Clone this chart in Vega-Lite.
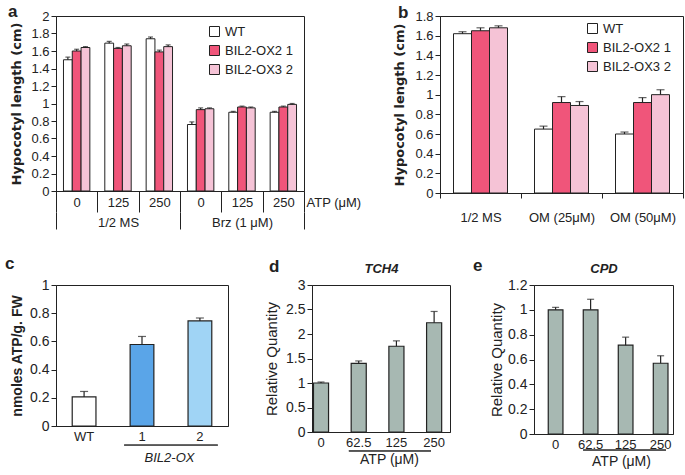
{
  "$schema": "https://vega.github.io/schema/vega-lite/v6.json",
  "background": "white",
  "padding": {"left": 4, "top": 2, "right": 0, "bottom": 0},
  "datasets": {
    "a": [
      {"cond": "MS|0", "genotype": "WT", "value": 1.50, "hi": 1.53},
      {"cond": "MS|0", "genotype": "BIL2-OX2 1", "value": 1.60, "hi": 1.62},
      {"cond": "MS|0", "genotype": "BIL2-OX3 2", "value": 1.64, "hi": 1.65},
      {"cond": "MS|125", "genotype": "WT", "value": 1.69, "hi": 1.71},
      {"cond": "MS|125", "genotype": "BIL2-OX2 1", "value": 1.63, "hi": 1.64},
      {"cond": "MS|125", "genotype": "BIL2-OX3 2", "value": 1.66, "hi": 1.68},
      {"cond": "MS|250", "genotype": "WT", "value": 1.74, "hi": 1.76},
      {"cond": "MS|250", "genotype": "BIL2-OX2 1", "value": 1.59, "hi": 1.61},
      {"cond": "MS|250", "genotype": "BIL2-OX3 2", "value": 1.65, "hi": 1.67},
      {"cond": "Brz|0", "genotype": "WT", "value": 0.76, "hi": 0.79},
      {"cond": "Brz|0", "genotype": "BIL2-OX2 1", "value": 0.93, "hi": 0.95},
      {"cond": "Brz|0", "genotype": "BIL2-OX3 2", "value": 0.94, "hi": 0.95},
      {"cond": "Brz|125", "genotype": "WT", "value": 0.90, "hi": 0.91},
      {"cond": "Brz|125", "genotype": "BIL2-OX2 1", "value": 0.96, "hi": 0.97},
      {"cond": "Brz|125", "genotype": "BIL2-OX3 2", "value": 0.95, "hi": 0.96},
      {"cond": "Brz|250", "genotype": "WT", "value": 0.90, "hi": 0.91},
      {"cond": "Brz|250", "genotype": "BIL2-OX2 1", "value": 0.96, "hi": 0.97},
      {"cond": "Brz|250", "genotype": "BIL2-OX3 2", "value": 0.99, "hi": 1.00}
    ],
    "agrp": [{"treatment": "1/2 MS"}, {"treatment": "Brz (1 μM)"}],
    "b": [
      {"medium": "1/2 MS", "genotype": "WT", "value": 1.62, "hi": 1.64},
      {"medium": "1/2 MS", "genotype": "BIL2-OX2 1", "value": 1.65, "hi": 1.68},
      {"medium": "1/2 MS", "genotype": "BIL2-OX3 2", "value": 1.68, "hi": 1.70},
      {"medium": "OM (25μM)", "genotype": "WT", "value": 0.65, "hi": 0.68},
      {"medium": "OM (25μM)", "genotype": "BIL2-OX2 1", "value": 0.92, "hi": 0.98},
      {"medium": "OM (25μM)", "genotype": "BIL2-OX3 2", "value": 0.89, "hi": 0.93},
      {"medium": "OM (50μM)", "genotype": "WT", "value": 0.60, "hi": 0.62},
      {"medium": "OM (50μM)", "genotype": "BIL2-OX2 1", "value": 0.92, "hi": 0.97},
      {"medium": "OM (50μM)", "genotype": "BIL2-OX3 2", "value": 1.00, "hi": 1.05}
    ],
    "c": [
      {"sample": "WT", "value": 0.206, "hi": 0.245},
      {"sample": "1", "value": 0.578, "hi": 0.635},
      {"sample": "2", "value": 0.745, "hi": 0.766}
    ],
    "d": [
      {"dose": "0", "value": 1.0, "hi": 1.02},
      {"dose": "62.5", "value": 1.40, "hi": 1.45},
      {"dose": "125", "value": 1.75, "hi": 1.86},
      {"dose": "250", "value": 2.23, "hi": 2.46}
    ],
    "e": [
      {"dose": "0", "value": 1.0, "hi": 1.02},
      {"dose": "62.5", "value": 1.0, "hi": 1.085},
      {"dose": "125", "value": 0.715, "hi": 0.78},
      {"dose": "250", "value": 0.57, "hi": 0.63}
    ]
  },
  "config": {
    "font": "Liberation Sans",
    "view": {"stroke": "#222", "strokeWidth": 1},
    "axis": {"domainColor": "#222", "tickColor": "#222", "labelColor": "#222", "titleColor": "#222", "grid": false, "labelFontSize": 13, "labelFont": "Liberation Sans", "titleFont": "Liberation Sans", "labelOverlap": false},
    "title": {"color": "#222", "font": "Liberation Sans"}
  },
  "spacing": 24,
  "resolve": {"scale": {"color": "independent", "xOffset": "independent"}},
  "vconcat": [
    {
      "hconcat": [
        {
          "width": 248, "height": 175,
          "title": {"text": "a", "anchor": "start", "frame": "group", "dx": -48, "dy": 24, "offset": 0, "fontSize": 17, "fontWeight": "bold", "baseline": "alphabetic"},
          "layer": [
            {
              "data": {"name": "a"},
              "layer": [
                {
                  "mark": {"type": "bar", "stroke": "#222", "strokeWidth": 1},
                  "encoding": {
                    "x": {"field": "cond", "type": "nominal", "sort": null, "scale": {"paddingInner": 0, "paddingOuter": 0},
                      "axis": {"title": "ATP (μM)", "titleX": 250, "titleY": 11, "titleAlign": "left", "titleBaseline": "middle", "titleAngle": 0, "titleFontWeight": "normal", "titleFontSize": 13,
                        "labelExpr": "split(datum.label, '|')[1]", "labelAngle": 0, "labelBaseline": "middle", "labelPadding": -10, "tickBand": "extent", "tickSize": 21}},
                    "xOffset": {"field": "genotype", "type": "nominal", "sort": null, "scale": {"paddingInner": 0, "paddingOuter": 0.85}},
                    "y": {"field": "value", "type": "quantitative", "scale": {"domain": [0, 2]},
                      "axis": {"title": "Hypocotyl length (cm)", "titleFont": "DejaVu Sans", "titleFontSize": 13, "titleFontWeight": "bold", "titlePadding": 7, "values": [0, 0.2, 0.4, 0.6, 0.8, 1, 1.2, 1.4, 1.6, 1.8, 2], "tickCount": 30, "format": ".1~f", "tickSize": 5, "labelPadding": 2}},
                    "color": {"field": "genotype", "type": "nominal", "sort": null,
                      "scale": {"domain": ["WT", "BIL2-OX2 1", "BIL2-OX3 2"], "range": ["#ffffff", "#f0557a", "#f5c3d6"]},
                      "legend": {"orient": "none", "legendX": 152, "legendY": 9, "title": null, "symbolType": "square", "symbolSize": 100, "symbolStrokeColor": "#222", "symbolStrokeWidth": 1, "labelFontSize": 13, "rowPadding": 4, "labelColor": "#222"}}
                  }
                },
                {
                  "mark": {"type": "rule", "color": "#222", "strokeWidth": 1.2},
                  "encoding": {
                    "x": {"field": "cond", "type": "nominal", "sort": null},
                    "xOffset": {"field": "genotype", "type": "nominal", "sort": null},
                    "y": {"field": "value", "type": "quantitative"},
                    "y2": {"field": "hi"}
                  }
                },
                {
                  "mark": {"type": "tick", "color": "#222", "size": 5, "thickness": 1.2},
                  "encoding": {
                    "x": {"field": "cond", "type": "nominal", "sort": null},
                    "xOffset": {"field": "genotype", "type": "nominal", "sort": null},
                    "y": {"field": "hi", "type": "quantitative"}
                  }
                }
              ]
            },
            {
              "data": {"name": "agrp"},
              "mark": {"type": "point", "opacity": 0},
              "encoding": {
                "x": {"field": "treatment", "type": "nominal", "sort": null, "scale": {"paddingInner": 0, "paddingOuter": 0},
                  "axis": {"orient": "bottom", "offset": 21, "title": null, "domain": false, "labelAngle": 0, "labelBaseline": "middle", "labelPadding": -7, "tickBand": "extent", "tickSize": 17}},
                "y": {"datum": 0, "type": "quantitative"}
              }
            }
          ],
          "resolve": {"scale": {"x": "independent"}, "axis": {"x": "independent"}}
        },
        {
          "width": 243, "height": 177,
          "title": {"text": "b", "anchor": "start", "frame": "group", "dx": -42, "dy": 25, "offset": 0, "fontSize": 17, "fontWeight": "bold", "baseline": "alphabetic"},
          "data": {"name": "b"},
          "layer": [
            {
              "mark": {"type": "bar", "stroke": "#222", "strokeWidth": 1},
              "encoding": {
                "x": {"field": "medium", "type": "nominal", "sort": null, "scale": {"paddingInner": 0, "paddingOuter": 0},
                  "axis": {"title": null, "labelAngle": 0, "labelBaseline": "middle", "labelPadding": 19, "tickBand": "extent", "tickSize": 5}},
                "xOffset": {"field": "genotype", "type": "nominal", "sort": null, "scale": {"paddingInner": 0, "paddingOuter": 0.75}},
                "y": {"field": "value", "type": "quantitative", "scale": {"domain": [0, 1.8]},
                  "axis": {"title": "Hypocotyl length (cm)", "titleFont": "DejaVu Sans", "titleFontSize": 13, "titleFontWeight": "bold", "titlePadding": 8, "values": [0, 0.2, 0.4, 0.6, 0.8, 1, 1.2, 1.4, 1.6, 1.8], "tickCount": 30, "format": ".1~f", "tickSize": 5, "labelPadding": 2}},
                "color": {"field": "genotype", "type": "nominal", "sort": null,
                  "scale": {"domain": ["WT", "BIL2-OX2 1", "BIL2-OX3 2"], "range": ["#ffffff", "#f0557a", "#f5c3d6"]},
                  "legend": {"orient": "none", "legendX": 146, "legendY": 6, "title": null, "symbolType": "square", "symbolSize": 100, "symbolStrokeColor": "#222", "symbolStrokeWidth": 1, "labelFontSize": 13, "rowPadding": 4, "labelColor": "#222"}}
              }
            },
            {
              "mark": {"type": "rule", "color": "#222", "strokeWidth": 1.2},
              "encoding": {
                "x": {"field": "medium", "type": "nominal", "sort": null},
                "xOffset": {"field": "genotype", "type": "nominal", "sort": null},
                "y": {"field": "value", "type": "quantitative"},
                "y2": {"field": "hi"}
              }
            },
            {
              "mark": {"type": "tick", "color": "#222", "size": 8, "thickness": 1.2},
              "encoding": {
                "x": {"field": "medium", "type": "nominal", "sort": null},
                "xOffset": {"field": "genotype", "type": "nominal", "sort": null},
                "y": {"field": "hi", "type": "quantitative"}
              }
            }
          ]
        }
      ],
      "spacing": 136,
      "bounds": "flush",
      "resolve": {"scale": {"color": "independent", "xOffset": "independent"}}
    },
    {
      "hconcat": [
        {
          "width": 172, "height": 141,
          "title": {"text": "c", "anchor": "start", "frame": "group", "dx": -51, "dy": 8, "offset": 0, "fontSize": 17, "fontWeight": "bold", "baseline": "alphabetic"},
          "data": {"name": "c"},
          "layer": [
            {
              "mark": {"type": "bar", "stroke": "#222", "strokeWidth": 1.2},
              "encoding": {
                "x": {"field": "sample", "type": "nominal", "sort": null, "scale": {"paddingInner": 0.59, "paddingOuter": 0.28},
                  "axis": {"title": "BIL2-OX", "titleFontStyle": "italic", "titleFontWeight": "normal", "titleFontSize": 13, "titleX": 113, "titlePadding": 8, "labelAngle": 0, "ticks": false, "labelPadding": 4}},
                "y": {"field": "value", "type": "quantitative", "scale": {"domain": [0, 1]},
                  "axis": {"title": "nmoles ATP/g. FW", "titleFontSize": 14, "titleFontWeight": "bold", "titlePadding": 5, "values": [0, 0.2, 0.4, 0.6, 0.8, 1], "tickCount": 30, "format": ".1~f", "tickSize": 5, "labelPadding": 2, "labelFontSize": 14}},
                "color": {"field": "sample", "type": "nominal", "sort": null,
                  "scale": {"domain": ["WT", "1", "2"], "range": ["#ffffff", "#5aa5e8", "#a0d4f5"]}, "legend": null}
              }
            },
            {
              "mark": {"type": "rule", "color": "#222", "strokeWidth": 1.2},
              "encoding": {
                "x": {"field": "sample", "type": "nominal", "sort": null},
                "y": {"field": "value", "type": "quantitative"},
                "y2": {"field": "hi"}
              }
            },
            {
              "mark": {"type": "tick", "color": "#222", "size": 8, "thickness": 1.2},
              "encoding": {
                "x": {"field": "sample", "type": "nominal", "sort": null},
                "y": {"field": "hi", "type": "quantitative"}
              }
            },
            {
              "mark": {"type": "rule", "color": "#555", "strokeWidth": 1.2},
              "encoding": {
                "x": {"datum": "1", "bandPosition": -0.25},
                "x2": {"datum": "2", "bandPosition": 1.25},
                "y": {"datum": -0.136, "type": "quantitative"}
              }
            }
          ]
        },
        {
          "width": 138, "height": 147,
          "title": {"text": "d", "anchor": "start", "frame": "group", "dx": -43, "dy": 27, "offset": 0, "fontSize": 17, "fontWeight": "bold", "baseline": "alphabetic"},
          "data": {"name": "d"},
          "layer": [
            {
              "mark": {"type": "bar", "fill": "#a7b8b2", "stroke": "#222", "strokeWidth": 1.2},
              "encoding": {
                "x": {"field": "dose", "type": "nominal", "sort": null, "scale": {"paddingInner": 0.6, "paddingOuter": 0.13, "align": 0.15},
                  "axis": {"orient": "bottom", "title": "ATP (μM)", "titleFontWeight": "normal", "titleFontSize": 14, "titleX": 77, "titlePadding": 3, "labelAngle": 0, "ticks": false, "labelPadding": 4}},
                "y": {"field": "value", "type": "quantitative", "scale": {"domain": [0, 3]},
                  "axis": {"title": "Relative Quantity", "titleFontWeight": "normal", "titleFontSize": 15, "titlePadding": 6.5, "values": [0, 0.5, 1, 1.5, 2, 2.5, 3], "tickCount": 30, "format": ".1~f", "tickSize": 5, "labelPadding": 2, "labelFontSize": 14}}
              }
            },
            {
              "mark": {"type": "rule", "color": "#222", "strokeWidth": 1.2},
              "encoding": {
                "x": {"field": "dose", "type": "nominal", "sort": null,
                  "axis": {"orient": "top", "title": "TCH4", "titleFontStyle": "italic", "titleFontWeight": "bold", "titleFontSize": 13, "labels": false, "ticks": false, "domain": false, "titlePadding": 10}},
                "y": {"field": "value", "type": "quantitative"},
                "y2": {"field": "hi"}
              }
            },
            {
              "mark": {"type": "tick", "color": "#222", "size": 7, "thickness": 1.2},
              "encoding": {
                "x": {"field": "dose", "type": "nominal", "sort": null, "axis": null},
                "y": {"field": "hi", "type": "quantitative"}
              }
            },
            {
              "mark": {"type": "rule", "color": "#555", "strokeWidth": 1.2},
              "encoding": {
                "x": {"datum": "62.5", "bandPosition": -0.15, "axis": null},
                "x2": {"datum": "250", "bandPosition": 0.29},
                "y": {"datum": -0.385, "type": "quantitative"}
              }
            }
          ],
          "resolve": {"axis": {"x": "independent"}}
        },
        {
          "width": 139, "height": 149,
          "title": {"text": "e", "anchor": "start", "frame": "group", "dx": -61, "dy": 26, "offset": 0, "fontSize": 17, "fontWeight": "bold", "baseline": "alphabetic"},
          "data": {"name": "e"},
          "layer": [
            {
              "mark": {"type": "bar", "fill": "#a7b8b2", "stroke": "#222", "strokeWidth": 1.2},
              "encoding": {
                "x": {"field": "dose", "type": "nominal", "sort": null, "scale": {"paddingInner": 0.58, "paddingOuter": 0.275, "align": 0.74},
                  "axis": {"orient": "bottom", "title": "ATP (μM)", "titleFontWeight": "normal", "titleFontSize": 14, "titleX": 87, "titlePadding": 3, "labelAngle": 0, "ticks": false, "labelPadding": 4}},
                "y": {"field": "value", "type": "quantitative", "scale": {"domain": [0, 1.2]},
                  "axis": {"title": "Relative Quantity", "titleFontWeight": "normal", "titleFontSize": 15, "titlePadding": 3.5, "values": [0, 0.2, 0.4, 0.6, 0.8, 1, 1.2], "tickCount": 30, "format": ".1~f", "tickSize": 5, "labelPadding": 2, "labelFontSize": 14}}
              }
            },
            {
              "mark": {"type": "rule", "color": "#222", "strokeWidth": 1.2},
              "encoding": {
                "x": {"field": "dose", "type": "nominal", "sort": null,
                  "axis": {"orient": "top", "title": "CPD", "titleFontStyle": "italic", "titleFontWeight": "bold", "titleFontSize": 13, "labels": false, "ticks": false, "domain": false, "titlePadding": 10}},
                "y": {"field": "value", "type": "quantitative"},
                "y2": {"field": "hi"}
              }
            },
            {
              "mark": {"type": "tick", "color": "#222", "size": 7, "thickness": 1.2},
              "encoding": {
                "x": {"field": "dose", "type": "nominal", "sort": null, "axis": null},
                "y": {"field": "hi", "type": "quantitative"}
              }
            },
            {
              "mark": {"type": "rule", "color": "#555", "strokeWidth": 1.2},
              "encoding": {
                "x": {"datum": "62.5", "bandPosition": 0, "axis": null},
                "x2": {"datum": "250", "bandPosition": 0.86},
                "y": {"datum": -0.13, "type": "quantitative"}
              }
            }
          ],
          "resolve": {"axis": {"x": "independent"}}
        }
      ],
      "spacing": 84,
      "bounds": "flush",
      "resolve": {"scale": {"color": "independent", "xOffset": "independent"}}
    }
  ]
}
